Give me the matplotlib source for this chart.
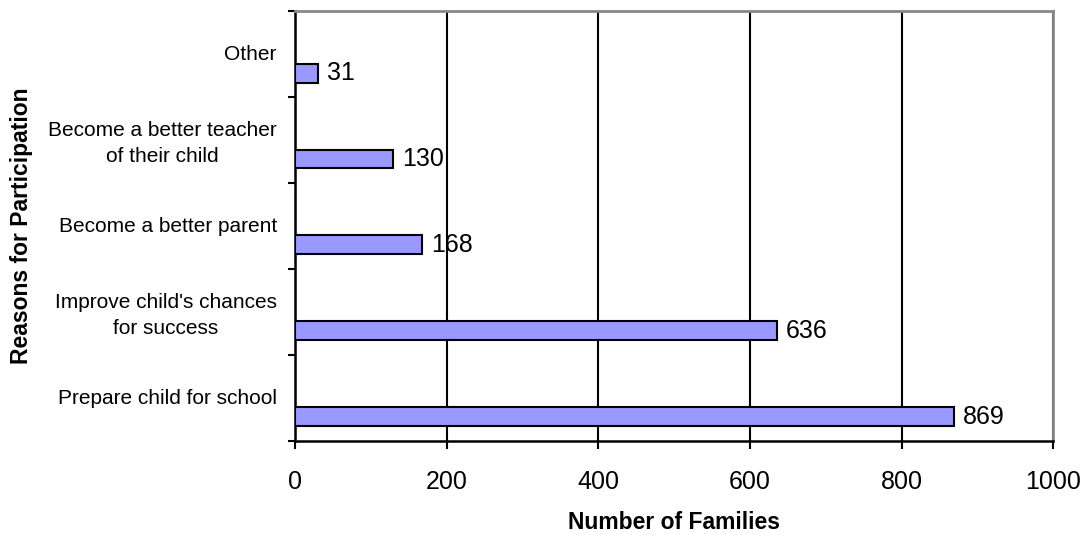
import numpy as np
import matplotlib.pyplot as plt

# data, bottom to top
reasons = ['Prepare child for school',
           "Improve child's chances\nfor success",
           'Become a better parent',
           'Become a better teacher\nof their child',
           'Other']
families = [869, 636, 168, 130, 31]

plt.rcParams['font.family'] = ['Liberation Sans', 'DejaVu Sans']

fig = plt.figure(figsize=(10.88, 5.35), dpi=100)
ax = fig.add_axes([0.271, 0.176, 0.697, 0.803])

pos = np.arange(len(reasons))
bar_off = -0.22
ax.barh(pos + bar_off, families, height=0.22, color='#9999ff',
        edgecolor='black', linewidth=1.5, zorder=3)

for y, v in zip(pos, families):
    ax.text(v + 12, y + bar_off, str(v), va='center', ha='left', fontsize=18, zorder=4)

ax.set_xlim(0, 1000)
ax.set_ylim(-0.5, len(reasons) - 0.5)
ax.set_xticks(np.arange(0, 1001, 200))
ax.tick_params(axis='x', labelsize=18, length=6, width=1.5, pad=15)

# category borders as major ticks, names at centres as minor ticks
ax.set_yticks(np.arange(-0.5, len(reasons), 1.0))
ax.set_yticklabels([])
ax.tick_params(axis='y', which='major', length=5, width=1.5)
ax.set_yticks(pos + 0.02, minor=True)
ax.set_yticklabels(reasons, minor=True, fontsize=15, multialignment='center',
                   linespacing=1.45)
ax.tick_params(axis='y', which='minor', length=0, pad=13)

ax.grid(axis='x', color='black', linewidth=1.5, zorder=0)
ax.set_axisbelow(True)

for s in ['left', 'bottom']:
    ax.spines[s].set_linewidth(1.8)
    ax.spines[s].set_color('black')
for s in ['top', 'right']:
    ax.spines[s].set_linewidth(2)
    ax.spines[s].set_color('#888888')

ax.set_xlabel('Number of Families', fontsize=16.5, fontweight='bold')
ax.xaxis.set_label_coords(0.5, -0.163)
ax.set_ylabel('Reasons for Participation', fontsize=16.5, fontweight='bold')
ax.yaxis.set_label_coords(-0.345, 0.5)

fig.savefig('out.png', dpi=100)
